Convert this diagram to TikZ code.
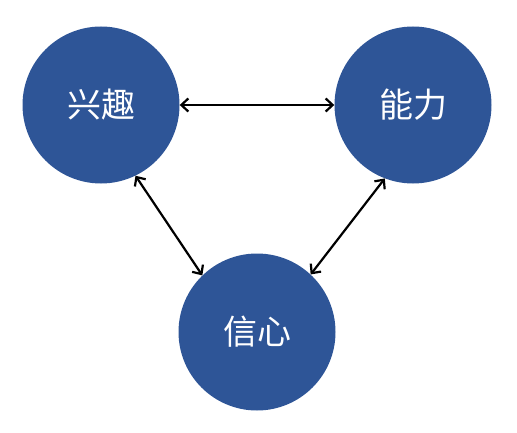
\documentclass[tikz,border=0pt]{standalone}
\usepackage{fontspec}
\usepackage{tikz}
\usetikzlibrary{shapes, arrows.meta, positioning, calc}
\newfontfamily\cjk{Noto Sans CJK SC}
\definecolor{circblue}{RGB}{46,85,151}

\begin{document}
\begin{tikzpicture}[x=1pt, y=1pt,
    factor/.style={circle, fill=circblue, minimum size=157pt, inner sep=0pt,
                   text=white, font=\cjk\fontsize{34}{40}\selectfont},
    link/.style={{Straight Barb[length=7pt, width=13pt]}-{Straight Barb[length=7pt, width=13pt]}, line width=2.2pt}]

        \useasboundingbox (0,0) rectangle (517,432);

        % ------------------ Circles ------------------

        % Interest
        \node[factor] (xq) at (101,327) {兴趣};

        % Ability
        \node[factor] (nl) at (413,327) {能力};

        % Confidence
        \node[factor] (xx) at (257,100) {信心};

        % ------------------ Arrows ------------------

        \draw[link] (xq.east) -- (nl.west);
        \draw[link] (xq.-64) -- (xx.134);
        \draw[link] (nl.-111) -- (xx.47);

\end{tikzpicture}
\end{document}
